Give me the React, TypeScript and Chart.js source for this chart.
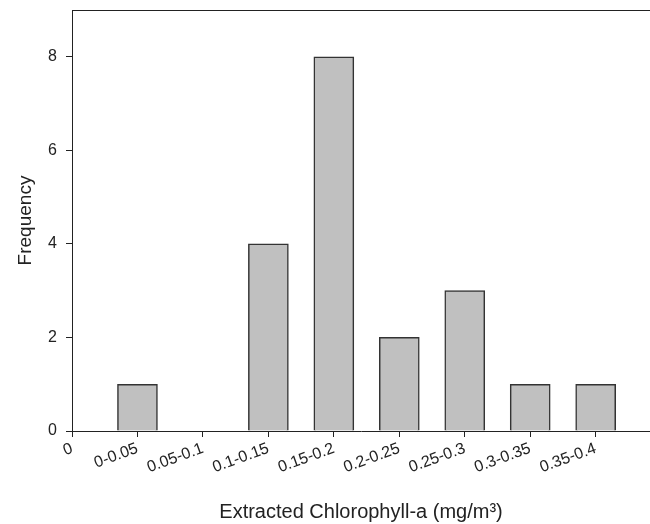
import React, { useEffect, useRef } from "react";
import { Chart, registerables } from "chart.js";
Chart.register(...registerables);

const categories = ["0", "0-0.05", "0.05-0.1", "0.1-0.15", "0.15-0.2", "0.2-0.25", "0.25-0.3", "0.3-0.35", "0.35-0.4"];
const frequencies = [1, 0, 4, 8, 2, 3, 1, 1];
const yTicks = [0, 2, 4, 6, 8];
const xTitle = "Extracted Chlorophyll-a (mg/m³)";
const yTitle = "Frequency";

const FONT = "'Liberation Sans', Arial, sans-serif";
const TEXT = "#222";
const AXIS = "#222";

export default function App() {
  const ref = useRef<HTMLCanvasElement>(null);
  useEffect(() => {
    if (!ref.current) return;
    const data = frequencies.map((f, i) => ({ x: i + 1, y: f }));
    const topLine = {
      id: "topLine",
      afterDraw(chart: any) {
        const { ctx, chartArea } = chart;
        ctx.save();
        ctx.strokeStyle = AXIS;
        ctx.lineWidth = 1;
        ctx.beginPath();
        ctx.moveTo(chartArea.left, chartArea.top + 0.5);
        ctx.lineTo(chartArea.right, chartArea.top + 0.5);
        ctx.stroke();
        ctx.restore();
      },
    };
    const chart = new Chart(ref.current, {
      type: "bar",
      data: {
        datasets: [
          {
            data: data as any,
            backgroundColor: "#c0c0c0",
            borderColor: "#333",
            borderWidth: 1.5,
            barThickness: 40,
          },
        ],
      },
      options: {
        animation: false,
        responsive: false,
        maintainAspectRatio: false,
        layout: { padding: { top: 10, right: 0, left: 0, bottom: 0 } },
        plugins: { legend: { display: false }, tooltip: { enabled: false } },
        scales: {
          x: {
            type: "linear",
            min: 0,
            max: 8.83,
            offset: false,
            afterBuildTicks: (s: any) => {
              s.ticks = categories.map((_, i) => ({ value: i }));
            },
            afterFit: (s: any) => {
              s.height = 93;
              s.paddingLeft = 0;
              s.paddingRight = 0;
            },
            ticks: {
              callback: (v: any) => categories[v as number] ?? "",
              minRotation: 20,
              maxRotation: 20,
              autoSkip: false,
              font: { family: FONT, size: 16 },
              color: TEXT,
              padding: 2,
            },
            grid: {
              display: true,
              drawOnChartArea: false,
              drawTicks: true,
              tickLength: 6,
              color: AXIS,
              offset: false,
            },
            border: { display: true, color: AXIS, width: 1 },
            title: {
              display: true,
              text: xTitle,
              font: { family: FONT, size: 20 },
              color: TEXT,
              padding: { top: 0, bottom: 0 },
            },
          } as any,
          y: {
            type: "linear",
            min: 0,
            max: 9,
            afterBuildTicks: (s: any) => {
              s.ticks = yTicks.map((v) => ({ value: v }));
            },
            afterFit: (s: any) => {
              s.width = 72;
              s.paddingTop = 0;
              s.paddingBottom = 0;
            },
            ticks: {
              font: { family: FONT, size: 16 },
              color: TEXT,
              padding: 9,
            },
            grid: {
              display: true,
              drawOnChartArea: false,
              drawTicks: true,
              tickLength: 6,
              color: AXIS,
            },
            border: { display: true, color: AXIS, width: 1 },
            title: {
              display: true,
              text: yTitle,
              font: { family: FONT, size: 19 },
              color: TEXT,
              padding: { top: 14, bottom: 0 },
            },
          },
        },
      },
      plugins: [topLine],
    });
    return () => chart.destroy();
  }, []);
  return (
    <div style={{ position: "fixed", left: 0, top: 0, width: 650, height: 524, background: "#fff" }}>
      <canvas ref={ref} width={650} height={524} style={{ display: "block", width: 650, height: 524 }} />
    </div>
  );
}
